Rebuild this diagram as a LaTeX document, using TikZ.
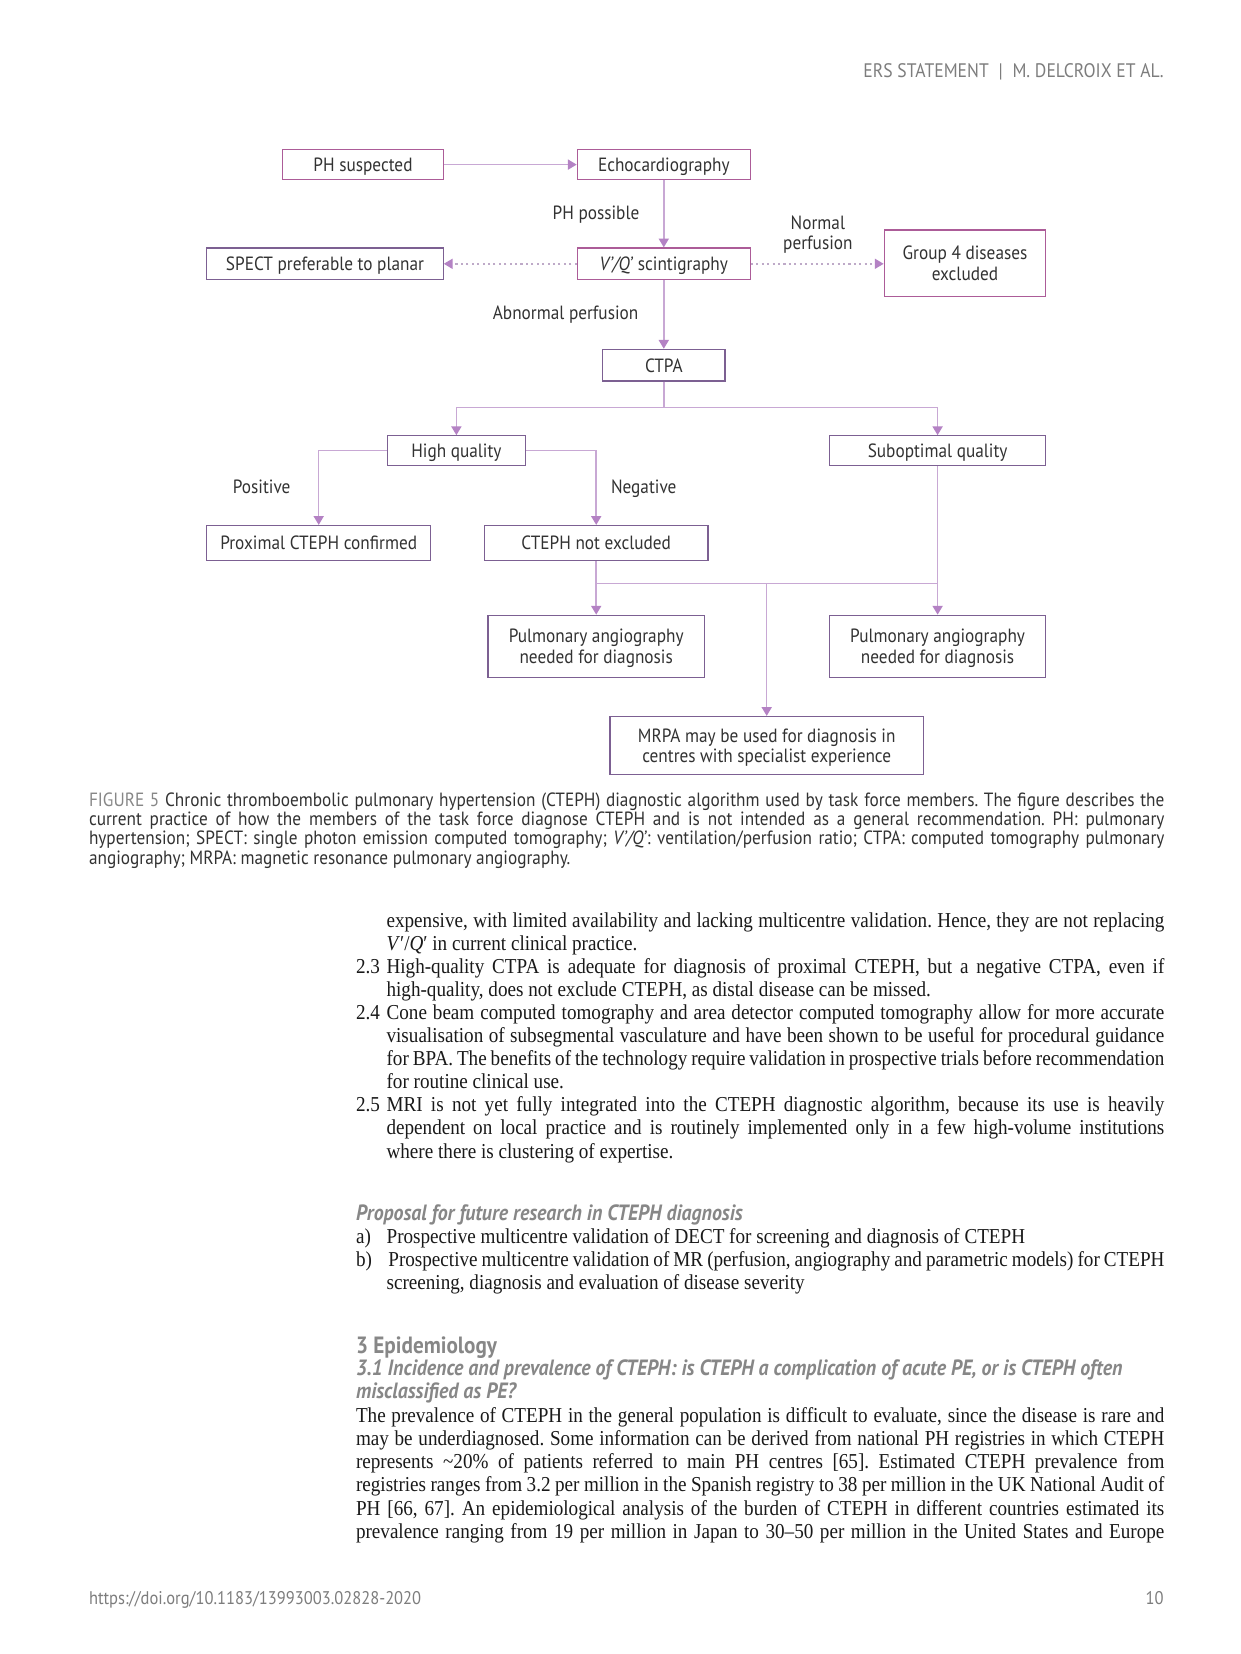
\documentclass[tikz,border=0pt]{standalone}
\usepackage{fontspec}
\setmainfont{Liberation Serif}
\newfontfamily\dinf[FakeStretch=0.9,Ligatures=TeX]{PT Sans}
\newfontfamily\bodyf[FakeStretch=0.9,Ligatures=TeX]{Liberation Serif}
\usetikzlibrary{arrows.meta}
\definecolor{boxm}{RGB}{172,92,152}
\definecolor{boxp}{RGB}{124,96,146}
\definecolor{linec}{RGB}{200,168,212}
\definecolor{tipc}{RGB}{180,130,196}
\definecolor{dotc}{RGB}{190,170,200}
\definecolor{txtc}{RGB}{50,50,50}
\definecolor{grayc}{RGB}{135,135,135}
\definecolor{headc}{RGB}{125,125,125}
\definecolor{bodyc}{RGB}{25,25,25}
\newcommand\jl[2]{\hbox to #1{#2}}
\frenchspacing
\tikzset{
  box/.style={draw=boxp, line width=0.6pt, text=txtc, font=\dinf\fontsize{9.2}{9.8}\selectfont, align=center, inner sep=1pt, text depth=0pt},
  boxmag/.style={box, draw=boxm},
  wh/.style 2 args={minimum width=#1*0.48pt, minimum height=#2*0.48pt},
  conn/.style={draw=linec, line width=0.75pt},
  arr/.style={conn, -{Triangle[width=4.8pt,length=4.2pt,color=tipc]}},
  dotarr/.style={draw=dotc, line width=0.7pt, dash pattern=on 1pt off 1.6pt, -{Triangle[width=4.8pt,length=4.2pt,color=tipc]}},
  lab/.style={text=txtc, font=\dinf\fontsize{9.2}{9.8}\selectfont, align=center, inner sep=0pt},
  bt/.style={anchor=base west, inner sep=0pt, text=bodyc, font=\bodyf\fontsize{10.2}{12}\selectfont},
  captxt/.style={anchor=base west, inner sep=0pt, text=txtc, font=\dinf\fontsize{9.2}{10}\selectfont},
  hdr/.style={inner sep=0pt, text=headc, font=\dinf\fontsize{9.4}{10}\selectfont},
  sech/.style={anchor=base west, inner sep=0pt, text=grayc, font=\dinf\bfseries\itshape\fontsize{10.6}{12}\selectfont},
  secb/.style={anchor=base west, inner sep=0pt, text=grayc, font=\dinf\bfseries\fontsize{11.3}{13}\selectfont},
}
\begin{document}
\begin{tikzpicture}[x=0.48pt,y=-0.48pt]
\useasboundingbox[fill=white] (0,0) rectangle (1241,1654);
% header
\node[hdr, anchor=base east] (hd) at (1164,77.5) {ERS STATEMENT\enspace|\enspace M. DELCROIX ET AL.};

% boxes
\node[boxmag, wh={160.4}{29.5}] (ps) at (363,164.6) {PH suspected};
\node[boxmag, wh={173}{29.5}] (echo) at (663.8,164.6) {Echocardiography};
\node[box, wh={236.4}{31.7}] (spect) at (325,263.8) {SPECT preferable to planar};
\node[boxmag, wh={173}{31.7}] (vq) at (663.8,263.8) {\textit{V’/Q’} scintigraphy};
\node[boxmag, wh={161.5}{66.5}] (g4) at (965,263.3) {Group 4 diseases\\excluded};
\node[box, wh={122.4}{31.7}] (ctpa) at (663.8,365.2) {CTPA};
\node[box, wh={138.2}{29.6}] (hq) at (456.4,450.6) {High quality};
\node[box, wh={216.3}{29.6}] (sq) at (937.6,450.6) {Suboptimal quality};
\node[box, wh={223.8}{35}] (prox) at (318.7,543) {Proximal CTEPH confirmed};
\node[box, wh={223.7}{35}] (cne) at (596.2,543) {CTEPH not excluded};
\node[box, wh={216.3}{62.3}] (pa1) at (596.2,646.4) {Pulmonary angiography\\needed for diagnosis};
\node[box, wh={216.3}{62.3}] (pa2) at (937.6,646.4) {Pulmonary angiography\\needed for diagnosis};
\node[box, wh={313.4}{58}] (mrpa) at (766.7,745.5) {MRPA may be used for diagnosis in\\centres with specialist experience};

% labels
\node[lab] (lphp) at (596,214.5) {PH possible};
\node[lab] (lnp) at (817.9,234.5) {Normal\\perfusion};
\node[lab] (lap) at (565.6,314.5) {Abnormal perfusion};
\node[lab] (lpos) at (261.7,487) {Positive};
\node[lab] (lneg) at (643.7,488.5) {Negative};

% connectors
\draw[arr] (ps.east) -- (echo.west);
\draw[arr] (echo.south) -- (vq.north);
\draw[dotarr] (vq.west) -- (spect.east);
\draw[dotarr] (vq.east) -- (vq.east -| g4.west);
\draw[arr] (vq.south) -- (ctpa.north);
\coordinate (s0) at (663.8,407.3);
\draw[conn] (ctpa.south) -- (s0);
\draw[arr] (s0) -| (hq.north);
\draw[arr] (s0) -| (sq.north);
\draw[arr] (hq.west) -| (prox.north);
\draw[arr] (hq.east) -| (cne.north);
\coordinate (j1) at (596.2,583.6);
\coordinate (j2) at (937.6,583.6);
\coordinate (j3) at (766.7,583.6);
\draw[conn] (cne.south) -- (j1) -- (j2);
\draw[arr] (j1) -- (pa1.north);
\draw[arr] (sq.south) -- (pa2.north);
\draw[arr] (j3) -- (mrpa.north);

% caption
\node[captxt] (c1) at (88.6,806) {\jl{516.2pt}{\textcolor{grayc}{FIGURE 5} Chronic thromboembolic pulmonary hypertension (CTEPH) diagnostic algorithm used by task force members. The figure describes the}};
\node[captxt] (c2) at (88.6,825.3) {\jl{516.2pt}{current practice of how the members of the task force diagnose CTEPH and is not intended as a general recommendation. PH: pulmonary}};
\node[captxt] (c3) at (88.6,844.6) {\jl{516.2pt}{hypertension; SPECT: single photon emission computed tomography; \textit{V’/Q’}: ventilation/perfusion ratio; CTPA: computed tomography pulmonary}};
\node[captxt] (c4) at (88.6,864) {angiography; MRPA: magnetic resonance pulmonary angiography.};

% body
\node[bt] (b1) at (386.2,927) {\jl{373.3pt}{expensive, with limited availability and lacking multicentre validation. Hence, they are not replacing}};
\node[bt] (b2) at (386.2,950.1) {\textit{V}′/\textit{Q}′ in current clinical practice.};
\node[bt] (n23) at (355.6,973.2) {2.3};
\node[bt] (b3) at (386.2,973.2) {\jl{373.3pt}{High-quality CTPA is adequate for diagnosis of proximal CTEPH, but a negative CTPA, even if}};
\node[bt] (b4) at (386.2,996.3) {high-quality, does not exclude CTEPH, as distal disease can be missed.};
\node[bt] (n24) at (355.6,1019.4) {2.4};
\node[bt] (b5) at (386.2,1019.4) {\jl{373.3pt}{Cone beam computed tomography and area detector computed tomography allow for more accurate}};
\node[bt] (b6) at (386.2,1042.5) {\jl{373.3pt}{visualisation of subsegmental vasculature and have been shown to be useful for procedural guidance}};
\node[bt] (b7) at (386.2,1065.6) {\jl{373.3pt}{for BPA. The benefits of the technology require validation in prospective trials before recommendation}};
\node[bt] (b8) at (386.2,1088.7) {for routine clinical use.};
\node[bt] (n25) at (355.6,1111.8) {2.5};
\node[bt] (b9) at (386.2,1111.8) {\jl{373.3pt}{MRI is not yet fully integrated into the CTEPH diagnostic algorithm, because its use is heavily}};
\node[bt] (b10) at (386.2,1134.9) {\jl{373.3pt}{dependent on local practice and is routinely implemented only in a few high-volume institutions}};
\node[bt] (b11) at (386.2,1158) {where there is clustering of expertise.};

% proposal
\node[sech] (ph) at (355.6,1220) {Proposal for future research in CTEPH diagnosis};
\node[bt] (pa) at (355.6,1243.5) {a)};
\node[bt] (pat) at (386.2,1243.5) {Prospective multicentre validation of DECT for screening and diagnosis of CTEPH};
\node[bt] (pb) at (355.6,1266.5) {b)};
\node[bt] (pbt) at (388,1266.5) {\jl{372.5pt}{Prospective multicentre validation of MR (perfusion, angiography and parametric models) for CTEPH}};
\node[bt] (pbc) at (386.2,1289.5) {screening, diagnosis and evaluation of disease severity};

% section 3
\node[secb] (s3) at (355.6,1353.5) {3 Epidemiology};
\node[sech] (s31a) at (355.6,1375.5) {3.1 Incidence and prevalence of CTEPH: is CTEPH a complication of acute PE, or is CTEPH often};
\node[sech] (s31b) at (355.6,1398.5) {misclassified as PE?};
\node[bt] (e1) at (355.6,1422) {\jl{388pt}{The prevalence of CTEPH in the general population is difficult to evaluate, since the disease is rare and}};
\node[bt] (e2) at (355.6,1445.3) {\jl{388pt}{may be underdiagnosed. Some information can be derived from national PH registries in which CTEPH}};
\node[bt] (e3) at (355.6,1468.6) {\jl{388pt}{represents \textasciitilde20\% of patients referred to main PH centres [65]. Estimated CTEPH prevalence from}};
\node[bt] (e4) at (355.6,1491.9) {\jl{388pt}{registries ranges from 3.2 per million in the Spanish registry to 38 per million in the UK National Audit of}};
\node[bt] (e5) at (355.6,1515.2) {\jl{388pt}{PH [66, 67]. An epidemiological analysis of the burden of CTEPH in different countries estimated its}};
\node[bt] (e6) at (355.6,1538.5) {\jl{388pt}{prevalence ranging from 19 per million in Japan to 30–50 per million in the United States and Europe}};

% footer
\node[hdr, anchor=base west, font=\dinf\fontsize{8.8}{10}\selectfont] (ft) at (88.6,1604) {https://doi.org/10.1183/13993003.02828-2020};
\node[hdr, anchor=base east, font=\dinf\fontsize{8.8}{10}\selectfont] (pg) at (1164,1604) {10};
\end{tikzpicture}
\end{document}
